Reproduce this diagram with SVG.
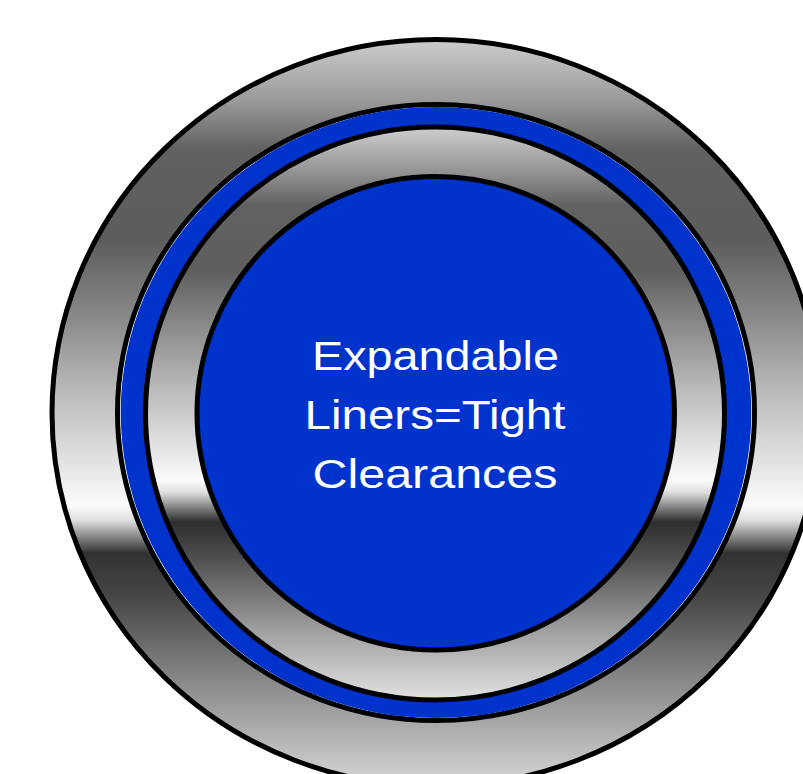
<svg xmlns="http://www.w3.org/2000/svg" width="803" height="774" viewBox="0 0 803 774">
<style>
.ring{stroke:#000;stroke-width:5}
.blue{fill:#0033cc}
.label{font-family:"Liberation Sans",Arial,sans-serif;font-size:40px;fill:#fff;text-anchor:middle}
</style>
<defs>
<linearGradient id="gOuter" gradientUnits="userSpaceOnUse" x1="0" y1="39" x2="0" y2="787">
<stop offset="0" stop-color="#cdcdcd"/>
<stop offset="0.082" stop-color="#9a9a9a"/>
<stop offset="0.148" stop-color="#616161"/>
<stop offset="0.268" stop-color="#5c5c5c"/>
<stop offset="0.374" stop-color="#8a8a8a"/>
<stop offset="0.483" stop-color="#bfbfbf"/>
<stop offset="0.623" stop-color="#fbfbfb"/>
<stop offset="0.643" stop-color="#e0e0e0"/>
<stop offset="0.665" stop-color="#8a8a8a"/>
<stop offset="0.687" stop-color="#323232"/>
<stop offset="0.75" stop-color="#484848"/>
<stop offset="0.857" stop-color="#888888"/>
<stop offset="1" stop-color="#d8d8d8"/>
</linearGradient>
<linearGradient id="gInner" gradientUnits="userSpaceOnUse" x1="0" y1="127" x2="0" y2="700">
<stop offset="0" stop-color="#cfcfcf"/>
<stop offset="0.087" stop-color="#8c8c8c"/>
<stop offset="0.136" stop-color="#626262"/>
<stop offset="0.25" stop-color="#5e5e5e"/>
<stop offset="0.356" stop-color="#8e8e8e"/>
<stop offset="0.476" stop-color="#c2c2c2"/>
<stop offset="0.616" stop-color="#fafafa"/>
<stop offset="0.637" stop-color="#e0e0e0"/>
<stop offset="0.66" stop-color="#909090"/>
<stop offset="0.689" stop-color="#2e2e2e"/>
<stop offset="0.755" stop-color="#505050"/>
<stop offset="0.88" stop-color="#a0a0a0"/>
<stop offset="1" stop-color="#e2e2e2"/>
</linearGradient>
</defs>
<g id="outer-ring">
<ellipse cx="436" cy="413" rx="384" ry="373.5" fill="url(#gOuter)" class="ring"/>
</g>
<g id="blue-ring">
<ellipse cx="436" cy="412.5" rx="318.5" ry="308" fill="#fff" class="ring"/>
<ellipse cx="436" cy="412.5" rx="315.3" ry="305.5" class="blue"/>
</g>
<g id="inner-ring">
<ellipse cx="435" cy="413.5" rx="289.5" ry="286.5" fill="url(#gInner)" class="ring"/>
</g>
<g id="core">
<ellipse cx="435.75" cy="413.25" rx="238.75" ry="236.75" class="blue ring"/>
<text class="label" x="435.5" y="370" textLength="247" lengthAdjust="spacingAndGlyphs">Expandable</text>
<text class="label" x="435" y="429" textLength="261" lengthAdjust="spacingAndGlyphs">Liners=Tight</text>
<text class="label" x="435" y="488" textLength="245" lengthAdjust="spacingAndGlyphs">Clearances</text>
</g>
<g id="connectors"/>
</svg>
